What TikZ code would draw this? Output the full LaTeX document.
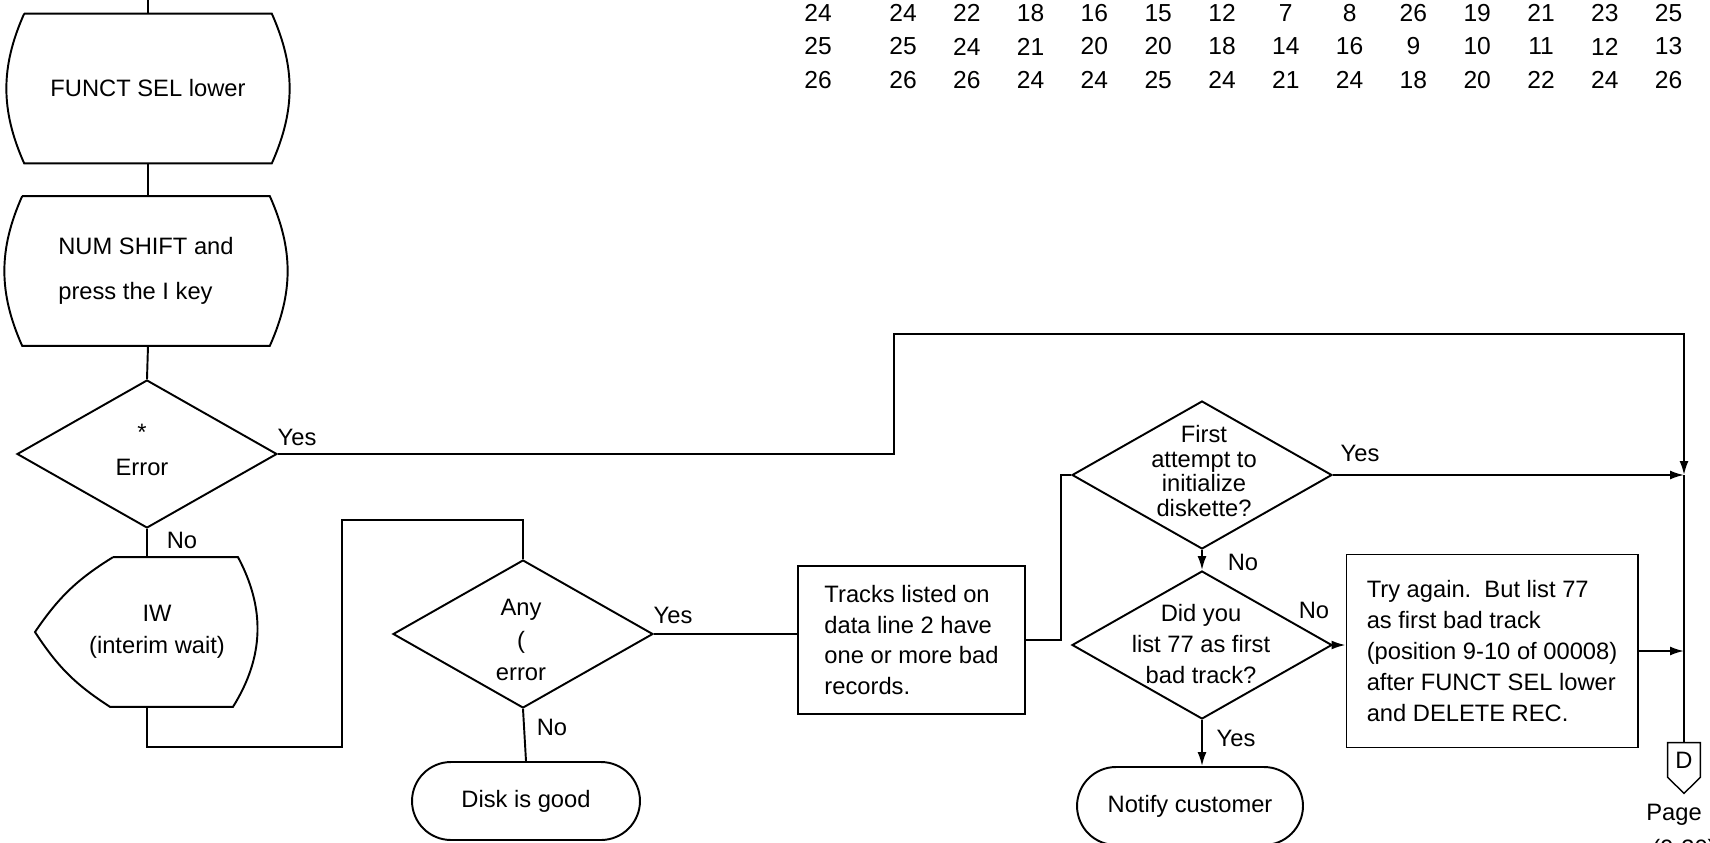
\documentclass[tikz,border=0pt]{standalone}
\usepackage{fontspec}
\setmainfont{Liberation Sans}
\usetikzlibrary{shapes.geometric,arrows.meta,calc}

\begin{document}
\begin{tikzpicture}[
    x=0.02cm, y=-0.02cm,
    every node/.style={font=\fontsize{13.5}{17.6}\selectfont},
    flow edge/.style={line width=1.1pt, draw=black},
    flow arrow/.style={flow edge, -{Latex[length=2.8mm,width=1.8mm]}},
    key node/.style={rectangle, minimum width=4.94cm, minimum height=2.98cm, inner sep=0pt},
    dec node/.style={diamond, draw=black, line width=1.1pt, minimum width=5.2cm, minimum height=2.96cm, inner sep=0pt},
    dec text/.style={align=center, inner sep=0pt},
    proc node/.style={rectangle, draw=black, line width=1.1pt, align=left, inner sep=0pt},
    term node/.style={rectangle, draw=black, line width=1.1pt, rounded corners=0.78cm, minimum width=4.56cm, minimum height=1.56cm},
    lbl node/.style={inner sep=0pt},
    num node/.style={inner sep=0pt, font=\fontsize{14}{16}\selectfont}
]
\path[fill=white, use as bounding box] (0,0) rectangle (1710,842);

% Spurtabelle oben rechts
\foreach \vals [count=\r] in {{24,24,22,18,16,15,12,7,8,26,19,21,23,25},
                             {25,25,24,21,20,20,18,14,16,9,10,11,12,13},
                             {26,26,26,24,24,25,24,21,24,18,20,22,24,26}}
  \foreach \v [count=\c] in \vals {
    \pgfmathsetmacro\cx{\c==1 ? 818 : 903+63.8*(\c-2)}
    \node[num node] (n\r-\c) at (\cx, 13+33.5*\r-33.5) {\v};
  }

% linke Spalte
\coordinate (entry) at (148,0);
\node[key node] (fsel) at (148,88.5) {FUNCT SEL lower};
\node[key node, align=left, font=\fontsize{13.5}{25.6}\selectfont] (numsh) at (146,271) {NUM SHIFT and\\press the I key};
\foreach \n in {fsel,numsh}
  \draw[flow edge] (\n.north west) -- (\n.north east) to[bend left=24] (\n.south east)
    -- (\n.south west) to[bend left=24] (\n.north west);

\node[dec node] (err) at (147,454) {};
\node[lbl node] (errstar) at (142,432) {*};
\node[lbl node] (errtxt) at (142,467) {Error};

\node[key node, minimum width=3.6cm, align=center, font=\fontsize{13.5}{18.2}\selectfont] (iw) at (157,632) {IW\\(interim wait)};
\draw[flow edge] ($(iw.north)+(-44,0)$) -- ($(iw.north)+(81,0)$) to[bend left=30] ($(iw.south)+(76,0)$)
  -- ($(iw.south)+(-47,0)$) to[bend left=12] ($(iw)+(-122,0)$) to[bend left=12] ($(iw.north)+(-44,0)$);

% Mitte
\node[dec node] (any) at (523,634) {};
\node[dec text, font=\fontsize{13.5}{18.5}\selectfont] (anytxt) at (521,640) {Any\\(\\error};
\node[term node] (good) at (526,801) {Disk is good};

\node[proc node, minimum width=4.54cm, minimum height=2.96cm] (tracks) at (911.5,640)
  {Tracks listed on\\data line 2 have\\one or more bad\\records.};

% rechte Seite
\node[dec node] (first) at (1202,475) {};
\node[dec text, font=\fontsize{13.5}{14.2}\selectfont] (firsttxt) at (1204,471) {First\\attempt to\\initialize\\diskette?};
\node[dec node] (did) at (1202,645) {};
\node[dec text, font=\fontsize{13.5}{17.9}\selectfont] (didtxt) at (1201,644) {Did you\\list 77 as first\\bad track?};
\node[term node, minimum width=4.52cm] (notify) at (1190,806) {Notify customer};

\node[proc node, line width=0.6pt, minimum width=5.84cm, minimum height=3.86cm] (try) at (1492,651)
  {Try again.\ \ But list 77\\as first bad track\\(position 9-10 of 00008)\\after FUNCT SEL lower\\and DELETE REC.};

\node[rectangle, minimum width=0.64cm, minimum height=0.68cm, inner sep=0pt] (pgD) at (1684,760) {D};
\draw[line width=0.8pt] (pgD.south west) -- (pgD.north west) -- (pgD.north east) -- (pgD.south east)
  -- ($(pgD.south)+(0,16)$) -- cycle;
\node[lbl node] (pglbl) at (1674,815) {Page};
\node[lbl node] (pgnum) at (1684,850) {(9-30)};

% Ja/Nein
\node[lbl node] (y1) at (297,437) {Yes};
\node[lbl node] (n1) at (182,540) {No};
\node[lbl node] (y2) at (673,615) {Yes};
\node[lbl node] (n2) at (552,727) {No};
\node[lbl node] (y3) at (1360,453) {Yes};
\node[lbl node] (n3) at (1243,562) {No};
\node[lbl node] (n4) at (1314,610) {No};
\node[lbl node] (y4) at (1236,738) {Yes};

% Verbindungen
\draw[flow edge] (entry) -- (fsel.north);
\draw[flow edge] (fsel.south) -- (numsh.north -| fsel.south);
\draw[flow edge] (numsh.south -| fsel.south) -- (err.north);
\draw[flow edge] (err.south) -- (err.south |- iw.north);
\draw[flow edge] (err.south |- iw.south) |- (342,747) -- (342,520) -| (any.north);
\draw[flow edge] (any.south) -- (good.north);
\draw[flow edge] (any.east) -- (any.east -| tracks.west);
\draw[flow edge] (tracks.east) -- ++(35,0) |- (first.west);
\draw[flow arrow] (first.south) -- (did.north);
\draw[flow arrow] (did.south) -- (did.south |- notify.north);
\draw[flow arrow] (did.east) -- (did.east -| try.west);
\draw[flow arrow] (err.east) -| (894,334) -| (first.east -| pgD.north);
\draw[flow edge] (first.east -| pgD.north) -- (pgD.north);
\draw[flow arrow] (first.east) -- (first.east -| pgD.north);
\draw[flow arrow] (try.east) -- (try.east -| pgD.north);

\end{tikzpicture}
\end{document}
